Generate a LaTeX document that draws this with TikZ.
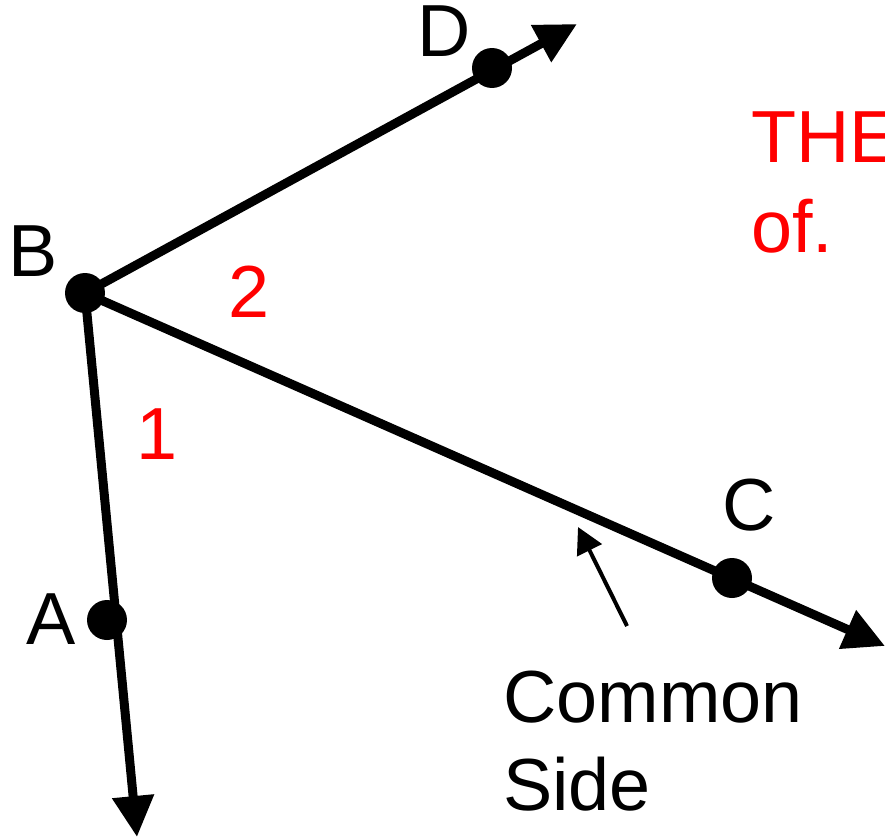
\documentclass[tikz,border=0pt]{standalone}
\usepackage{fontspec}
\setmainfont{Liberation Sans}
\usetikzlibrary{arrows.meta}
\tikzset{
	ray/.style = {line width = 0.18cm, -{Triangle[length = 0.82cm, width = 0.8cm]}},
	pointer/.style = {line width = 0.08cm, -{Triangle[length = 0.52cm, width = 0.54cm]}},
	pt/.style = {circle, fill = black, inner sep = 0pt, minimum size = 0.8cm},
	lbl/.style = {font = \fontsize{42}{50}\selectfont},
	ang/.style = {lbl, text = red}
}
\begin{document}
\begin{tikzpicture}[x = 0.02cm, y = -0.02cm]
\useasboundingbox (0,0) rectangle (885,838);
\clip (0,0) rectangle (885,838);
% rays from the vertex
\coordinate (B) at (85,293);
\coordinate (Dend) at (577,24);
\coordinate (Cend) at (885,646);
\coordinate (Aend) at (137,837);
\draw[ray] (B) -- (Dend);
\draw[ray] (B) -- (Cend);
\draw[ray] (B) -- (Aend);
% points
\node[pt] (ptB) at (B) {};
\node[pt] (ptD) at (492,68) {};
\node[pt] (ptC) at (732,578) {};
\node[pt] (ptA) at (107,620) {};
% letters
\node[lbl] (labB) at (33,251) {B};
\node[lbl] (labD) at (444,31) {D};
\node[lbl] (labC) at (749,505) {C};
\node[lbl] (labA) at (51,619) {A};
% angle numbers
\node[ang] (one) at (157,434) {1};
\node[ang] (two) at (249,292) {2};
\node[ang, anchor = base west, inner sep = 0pt] (the) at (751,162) {THE};
\node[ang, anchor = base west, inner sep = 0pt] (of) at (751,252) {of.};
% common side
\node[lbl, anchor = base west, inner sep = 0pt] (common) at (503,722) {Common};
\node[lbl, anchor = base west, inner sep = 0pt] (side) at (503,810) {Side};
\coordinate (csTail) at (627,626);
\coordinate (csTip) at (578,527);
\draw[pointer] (csTail) -- (csTip);
\end{tikzpicture}
\end{document}
